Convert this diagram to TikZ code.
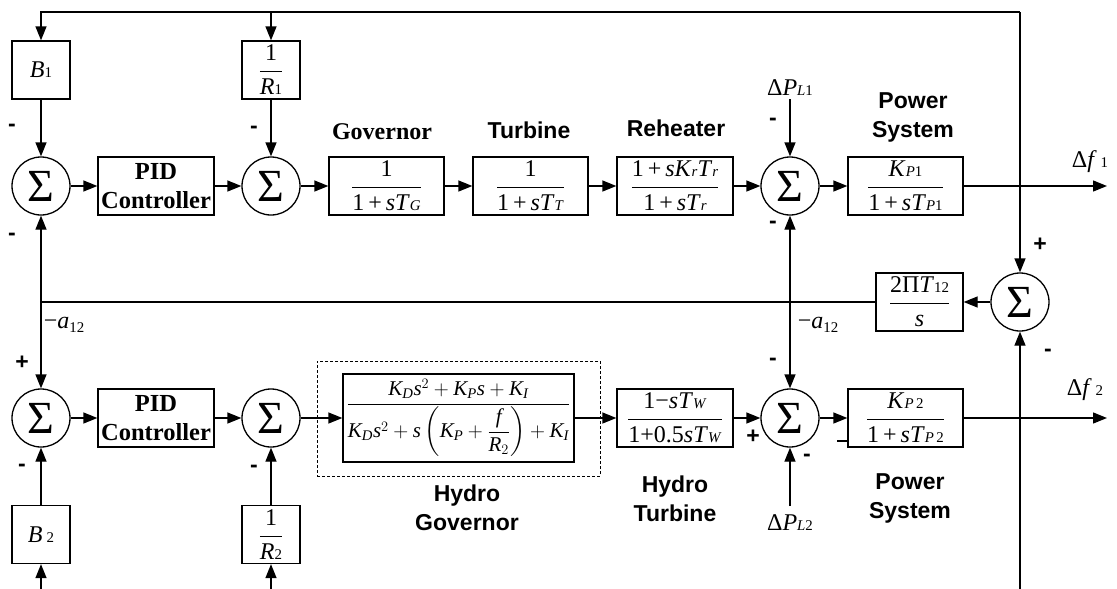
\documentclass[tikz,border=0pt]{standalone}
\usepackage{amsmath}
\usepackage{graphicx}
\usepackage{fontspec}
\setmainfont{Liberation Serif}
\setsansfont{Liberation Sans}
\usetikzlibrary{arrows.meta}
\newcommand\I[1]{\textit{#1}}
\newcommand\lo[1]{\scalebox{0.62}{#1}}
\newcommand\fr[2]{$\genfrac{}{}{0.7pt}{0}{\mbox{#1}}{\mbox{#2}}$}
\newcommand\mi[1]{\text{\itshape #1}}
\tikzset{
  ln/.style={line width=1.3pt},
  arr/.style={ln,-{Triangle[length=14pt,width=11pt]}},
  blk/.style={draw,ln,minimum width=116pt,minimum height=58pt,inner sep=0pt,
    font=\fontsize{24}{28}\selectfont},
  sqblk/.style={blk,minimum width=58pt},
  pidbox/.style={blk,align=center,font=\fontsize{24.5}{29}\selectfont\bfseries},
  sumc/.style={draw,ln,circle,minimum size=58pt,inner sep=0pt,
    font=\fontsize{46}{46}\selectfont},
  lbl/.style={align=center,inner sep=0pt,font=\fontsize{23}{29}\selectfont\sffamily\bfseries},
  slbl/.style={align=center,inner sep=0pt,font=\fontsize{24}{29}\selectfont\bfseries},
  sgn/.style={inner sep=0pt,font=\fontsize{23}{23}\selectfont\sffamily\bfseries},
  mt/.style={inner sep=0pt,font=\fontsize{24}{28}\selectfont},
}
\begin{document}
\begin{tikzpicture}[x=1pt,y=-1pt]
\useasboundingbox (0,0) rectangle (1117,589);
% ---- top area
\node[sumc] (s11) at (41,186) {Σ};
\node[pidbox] (pid1) at (156,186) {PID\\Controller};
\node[sumc] (s12) at (271,186) {Σ};
\node[blk,minimum width=115pt] (gov) at (386.5,186) {\fr{1}{1\,+\,\I{sT}\lo{\I{G}}}};
\node[blk,minimum width=115pt] (tur) at (530.5,186) {\fr{1}{1\,+\,\I{sT}\lo{\I{T}}}};
\node[blk] (reh) at (675,186) {\fr{1\,+\,\I{sK}\lo{\I{r}}\I{T}\lo{\I{r}}}{1\,+\,\I{sT}\lo{\I{r}}}};
\node[sumc] (s13) at (790,186) {Σ};
\node[blk,minimum width=115pt] (ps1) at (905.5,186) {\fr{\I{K}\lo{\I{P}1}}{1\,+\,\I{sT}\lo{\I{P}1}}};
\node[sqblk] (B1) at (41,70) {\I{B}\lo{1}};
\node[sqblk] (R1) at (271,70) {\fr{1}{\I{R}\lo{1}}};
\node[mt] (dPL1) at (790,88) {Δ\I{P}\lo{\I{L}1}};
\node[mt] (df1) at (1090,162) {Δ\I{f}\,\lo{1}};
\node[slbl] (govl) at (382,132) {Governor};
\node[lbl] (turl) at (529,130) {Turbine};
\node[lbl] (rehl) at (676,128) {Reheater};
\node[lbl] (ps1l) at (913,117) {Power\\System};
% ---- tie line
\node[sumc] (sR) at (1020,302) {Σ};
\node[blk,minimum width=87pt] (tie) at (919.5,302) {\fr{2Π\I{T}\lo{12}}{\I{s}}};
\node[mt] (a1) at (64,325) {−\I{a}\raisebox{-0.3ex}{\lo{12}}};
\node[mt] (a2) at (818,325) {−\I{a}\raisebox{-0.3ex}{\lo{12}}};
% ---- bottom area
\node[sumc] (s21) at (41,418) {Σ};
\node[pidbox] (pid2) at (156,418) {PID\\Controller};
\node[sumc] (s22) at (271,418) {Σ};
\node[draw,dashed,line width=0.8pt,dash pattern=on 3pt off 2pt,minimum width=283pt,minimum height=115pt] (hgd) at (458.5,418.5) {};
\node[blk,minimum width=231pt,minimum height=88pt,font=\fontsize{21}{24}\selectfont] (hg) at (458.5,418)
  {$\genfrac{}{}{0.7pt}{0}{\mi{K}_{\mi{D}}\mi{s}^{2}+\mi{K}_{\mi{P}}\mi{s}+\mi{K}_{\mi{I}}}{\mi{K}_{\mi{D}}\mi{s}^{2}+\mi{s}\left(\mi{K}_{\mi{P}}+\dfrac{\mi{f}}{\mi{R}_{2}}\right)+\mi{K}_{\mi{I}}}$};
\node[blk] (ht) at (675,418) {\fr{1−\I{sT}\lo{\I{W}}}{1+0.5\I{sT}\lo{\I{W}}}};
\node[sumc] (s23) at (790,418) {Σ};
\node[blk,minimum width=115pt] (ps2) at (905.5,418) {\fr{\I{K}\lo{\I{P}\,2}}{1\,+\,\I{sT}\lo{\I{P}\,2}}};
\node[sqblk] (B2) at (41,534.5) {\I{B}\,\lo{2}};
\node[sqblk] (R2) at (271,534.5) {\fr{1}{\I{R}\lo{2}}};
\node[mt] (dPL2) at (790,523) {Δ\I{P}\lo{\I{L}2}};
\node[mt] (df2) at (1085,390) {Δ\I{f}\,\lo{2}};
\node[lbl] (hgl) at (467,508) {Hydro\\Governor};
\node[lbl] (htl) at (675,499) {Hydro\\Turbine};
\node[lbl] (ps2l) at (910,498) {Power\\System};
% ---- signs
\node[sgn] at (12,128) {-};
\node[sgn] at (254,130) {-};
\node[sgn] at (12,237) {-};
\node[sgn] at (773,122) {-};
\node[sgn] at (773,225) {-};
\node[sgn] at (1040,245) {+};
\node[sgn] at (1048,353) {-};
\node[sgn] at (22,363) {+};
\node[sgn] at (22,468) {-};
\node[sgn] at (254,469) {-};
\node[sgn] at (773,362) {-};
\node[sgn] at (753,437) {+};
\node[sgn] at (807,458) {-};
% ---- coordinates
\coordinate (tl) at (41,12);
\coordinate (tm) at (271,12);
\coordinate (tr) at (1020,12);
\coordinate (o1) at (1107,186);
\coordinate (o2) at (1107,418);
\coordinate (jl) at (41,302);
\coordinate (jm) at (790,302);
\coordinate (bB) at (41,589);
\coordinate (bR) at (271,589);
\coordinate (bS) at (1020,589);
\coordinate (st1) at (837,441);
\coordinate (st2) at (847,441);
% ---- connectors top
\draw[arr] (s11) -- (pid1);
\draw[arr] (pid1) -- (s12);
\draw[arr] (s12) -- (gov);
\draw[arr] (gov) -- (tur);
\draw[arr] (tur) -- (reh);
\draw[arr] (reh) -- (s13);
\draw[arr] (s13) -- (ps1);
\draw[arr] (ps1) -- (o1);
\draw[arr] (tr) -- (tl) -- (B1.north);
\draw[arr] (tm) -- (R1.north);
\draw[arr] (B1) -- (s11);
\draw[arr] (R1) -- (s12);
\draw[arr] (dPL1.south |- 0,99) -- (s13.north);
\draw[arr] (tr) -- (sR.north);
% ---- tie
\draw[arr] (sR) -- (tie);
\draw[ln] (tie.west) -- (jl);
\draw[arr] (jl) -- (s11.south);
\draw[arr] (jl) -- (s21.north);
\draw[arr] (jm) -- (s13.south);
\draw[arr] (jm) -- (s23.north);
\draw[arr] (bS) -- (sR.south);
% ---- connectors bottom
\draw[arr] (s21) -- (pid2);
\draw[arr] (pid2) -- (s22);
\draw[arr] (s22) -- (hg);
\draw[arr] (hg) -- (ht);
\draw[arr] (ht) -- (s23);
\draw[arr] (s23) -- (ps2);
\draw[arr] (ps2) -- (o2);
\draw[arr] (bB) -- (B2.south);
\draw[arr] (bR) -- (R2.south);
\draw[arr] (B2) -- (s21);
\draw[arr] (R2) -- (s22);
\draw[arr] (dPL2.north |- 0,506) -- (s23.south);
\draw[ln] (st1) -- (st2);
\end{tikzpicture}
\end{document}
